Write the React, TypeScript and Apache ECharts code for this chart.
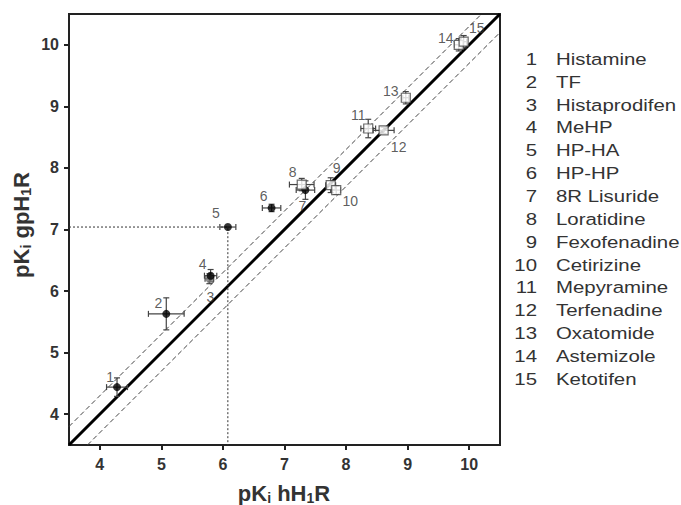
import React, { useEffect, useRef } from "react";
import * as echarts from "echarts";

const compounds = [
  "Histamine", "TF", "Histaprodifen", "MeHP", "HP-HA", "HP-HP", "8R Lisuride",
  "Loratidine", "Fexofenadine", "Cetirizine", "Mepyramine", "Terfenadine",
  "Oxatomide", "Astemizole", "Ketotifen",
];
const hH1R = [4.28, 5.08, 5.78, 5.8, 6.08, 6.79, 7.34, 7.28, 7.75, 7.84, 8.36, 8.61, 8.97, 9.83, 9.91];
const gpH1R = [4.44, 5.63, 6.2, 6.25, 7.04, 7.35, 7.64, 7.73, 7.72, 7.64, 8.64, 8.61, 9.14, 10.0, 10.05];
const hH1RErr = [0.17, 0.29, 0.07, 0.1, 0.13, 0.15, 0.15, 0.2, 0.08, 0.07, 0.12, 0.17, 0.05, 0.07, 0.05];
const gpH1RErr = [0.15, 0.26, 0.08, 0.1, 0, 0.06, 0.15, 0.1, 0.12, 0.07, 0.15, 0.05, 0.1, 0.1, 0.1];
const markerKind = ["dot", "dot", "dot", "dot", "dot", "dot", "dot", "sq", "sq", "sq", "sq", "sq", "sq", "sq", "sq"];
const tickValues = [4, 5, 6, 7, 8, 9, 10];
const axisMin = 3.5;
const axisMax = 10.5;
const foldBand = 0.3;
const refPoint = 4; // index of HP-HA for the dotted guide lines

// layout only: label offsets in pixels relative to each marker
const labelOffsets = [
  [-7, -10], [-8, -11], [1, 18], [-8, -12], [-12, -14], [-8, -12], [-3, 16],
  [-9, -13], [6, -17], [14, 11], [-10, -14], [15, 17], [-15, -7], [-13, -7], [13, -14],
];

export default function App() {
  const ref = useRef<HTMLDivElement>(null);
  useEffect(() => {
    if (!ref.current) return;
    const chart = echarts.init(ref.current, null, { renderer: "svg" });
    const font = "'Liberation Sans', Arial, sans-serif";
    const idx = compounds.map((_, i) => i);
    const pointData = (kind: string) =>
      idx
        .filter((i) => markerKind[i] === kind)
        .map((i) => ({
          value: [hH1R[i], gpH1R[i]],
          name: String(i + 1),
          itemStyle: i === 2 ? { color: "#777" } : undefined,
          label: { offset: labelOffsets[i] },
        }));
    const pointLabel = {
      show: true,
      position: "inside" as const,
      formatter: (p: any) => p.name,
      color: "#333",
      fontSize: 14,
      fontFamily: font,
    };
    const rx = hH1R[refPoint];
    const ry = gpH1R[refPoint];
    const legendTop = 59;
    const legendStep = 22.86;
    const legendGraphics: any[] = [];
    compounds.forEach((c, i) => {
      legendGraphics.push({
        type: "text",
        x: 537,
        y: legendTop + i * legendStep,
        scaleX: 1.2,
        style: { text: String(i + 1), fill: "#333", font: `17px ${font}`, align: "right", verticalAlign: "middle" },
      });
      legendGraphics.push({
        type: "text",
        x: 556,
        y: legendTop + i * legendStep,
        scaleX: 1.2,
        style: { text: c, fill: "#333", font: `17px ${font}`, align: "left", verticalAlign: "middle" },
      });
    });
    const titleRich = {
      a: { fontSize: 22, fontWeight: "bold", fontFamily: font, fill: "#333", color: "#333" },
      s: { fontSize: 14, fontWeight: "bold", fontFamily: font, fill: "#333", color: "#333", padding: [9, 0, 0, 0] },
    };
    chart.setOption({
      animation: false,
      backgroundColor: "#fff",
      grid: { left: 69, top: 14, width: 431, height: 431, show: true, borderColor: "#222", borderWidth: 2, backgroundColor: "transparent" },
      xAxis: {
        type: "value",
        min: axisMin,
        max: axisMax,
        splitLine: { show: false },
        axisLine: { lineStyle: { color: "#222", width: 2 } },
        axisTick: { customValues: tickValues, length: 5, lineStyle: { color: "#222", width: 2 } },
        axisLabel: { customValues: tickValues, margin: 11, color: "#333", fontSize: 16, fontWeight: "bold", fontFamily: font },
      },
      yAxis: {
        type: "value",
        min: axisMin,
        max: axisMax,
        splitLine: { show: false },
        axisLine: { lineStyle: { color: "#222", width: 2 } },
        axisTick: { customValues: tickValues, length: 5, lineStyle: { color: "#222", width: 2 } },
        axisLabel: { customValues: tickValues, margin: 10, color: "#333", fontSize: 16, fontWeight: "bold", fontFamily: font },
      },
      graphic: [
        {
          type: "text",
          x: 284,
          y: 493,
          style: { text: "{a|pK}{s|i}{a| hH}{s|1}{a|R}", rich: titleRich, align: "center", verticalAlign: "middle" },
        },
        {
          type: "text",
          x: 21,
          y: 225,
          rotation: Math.PI / 2,
          style: { text: "{a|pK}{s|i}{a| gpH}{s|1}{a|R}", rich: titleRich, align: "center", verticalAlign: "middle" },
        },
        ...legendGraphics,
      ],
      series: [
        {
          type: "line",
          data: [[axisMin, axisMin], [axisMax, axisMax]],
          symbol: "none",
          lineStyle: { color: "#000", width: 3 },
          z: 2,
        },
        {
          type: "line",
          data: [[axisMin, axisMin + foldBand], [axisMax - foldBand, axisMax]],
          symbol: "none",
          lineStyle: { color: "#444", width: 1, type: [5, 3] },
          z: 2,
        },
        {
          type: "line",
          data: [[axisMin + foldBand, axisMin], [axisMax, axisMax - foldBand]],
          symbol: "none",
          lineStyle: { color: "#444", width: 1, type: [5, 3] },
          z: 2,
        },
        {
          type: "line",
          data: [[axisMin, ry], [rx, ry], [rx, axisMin]],
          symbol: "none",
          lineStyle: { color: "#333", width: 1, type: [2, 2] },
          z: 2,
        },
        {
          type: "custom",
          z: 3,
          data: idx.map((i) => [hH1R[i], gpH1R[i], hH1RErr[i], gpH1RErr[i]]),
          renderItem: (params: any, api: any) => {
            const x = api.value(0), y = api.value(1), ex = api.value(2), ey = api.value(3);
            const l = api.coord([x - ex, y]);
            const r = api.coord([x + ex, y]);
            const t = api.coord([x, y + ey]);
            const b = api.coord([x, y - ey]);
            const st = { stroke: "#444", lineWidth: 1.2 };
            const cap = 3;
            const children: any[] = [];
            if (ex > 0) {
              children.push({ type: "line", shape: { x1: l[0], y1: l[1], x2: r[0], y2: r[1] }, style: st });
              children.push({ type: "line", shape: { x1: l[0], y1: l[1] - cap, x2: l[0], y2: l[1] + cap }, style: st });
              children.push({ type: "line", shape: { x1: r[0], y1: r[1] - cap, x2: r[0], y2: r[1] + cap }, style: st });
            }
            if (ey > 0) {
              children.push({ type: "line", shape: { x1: t[0], y1: t[1], x2: b[0], y2: b[1] }, style: st });
              children.push({ type: "line", shape: { x1: t[0] - cap, y1: t[1], x2: t[0] + cap, y2: t[1] }, style: st });
              children.push({ type: "line", shape: { x1: b[0] - cap, y1: b[1], x2: b[0] + cap, y2: b[1] }, style: st });
            }
            return { type: "group", children };
          },
        },
        {
          type: "scatter",
          z: 4,
          symbol: "circle",
          symbolSize: 8,
          itemStyle: { color: "#000" },
          label: pointLabel,
          data: pointData("dot"),
        },
        {
          type: "scatter",
          z: 4,
          symbol: "rect",
          symbolSize: 9,
          itemStyle: { color: "#fff", borderColor: "#444", borderWidth: 1.2 },
          label: pointLabel,
          data: pointData("sq"),
        },
      ],
    });
    return () => chart.dispose();
  }, []);
  return <div ref={ref} style={{ position: "absolute", left: 0, top: 0, width: 681, height: 505 }} />;
}
